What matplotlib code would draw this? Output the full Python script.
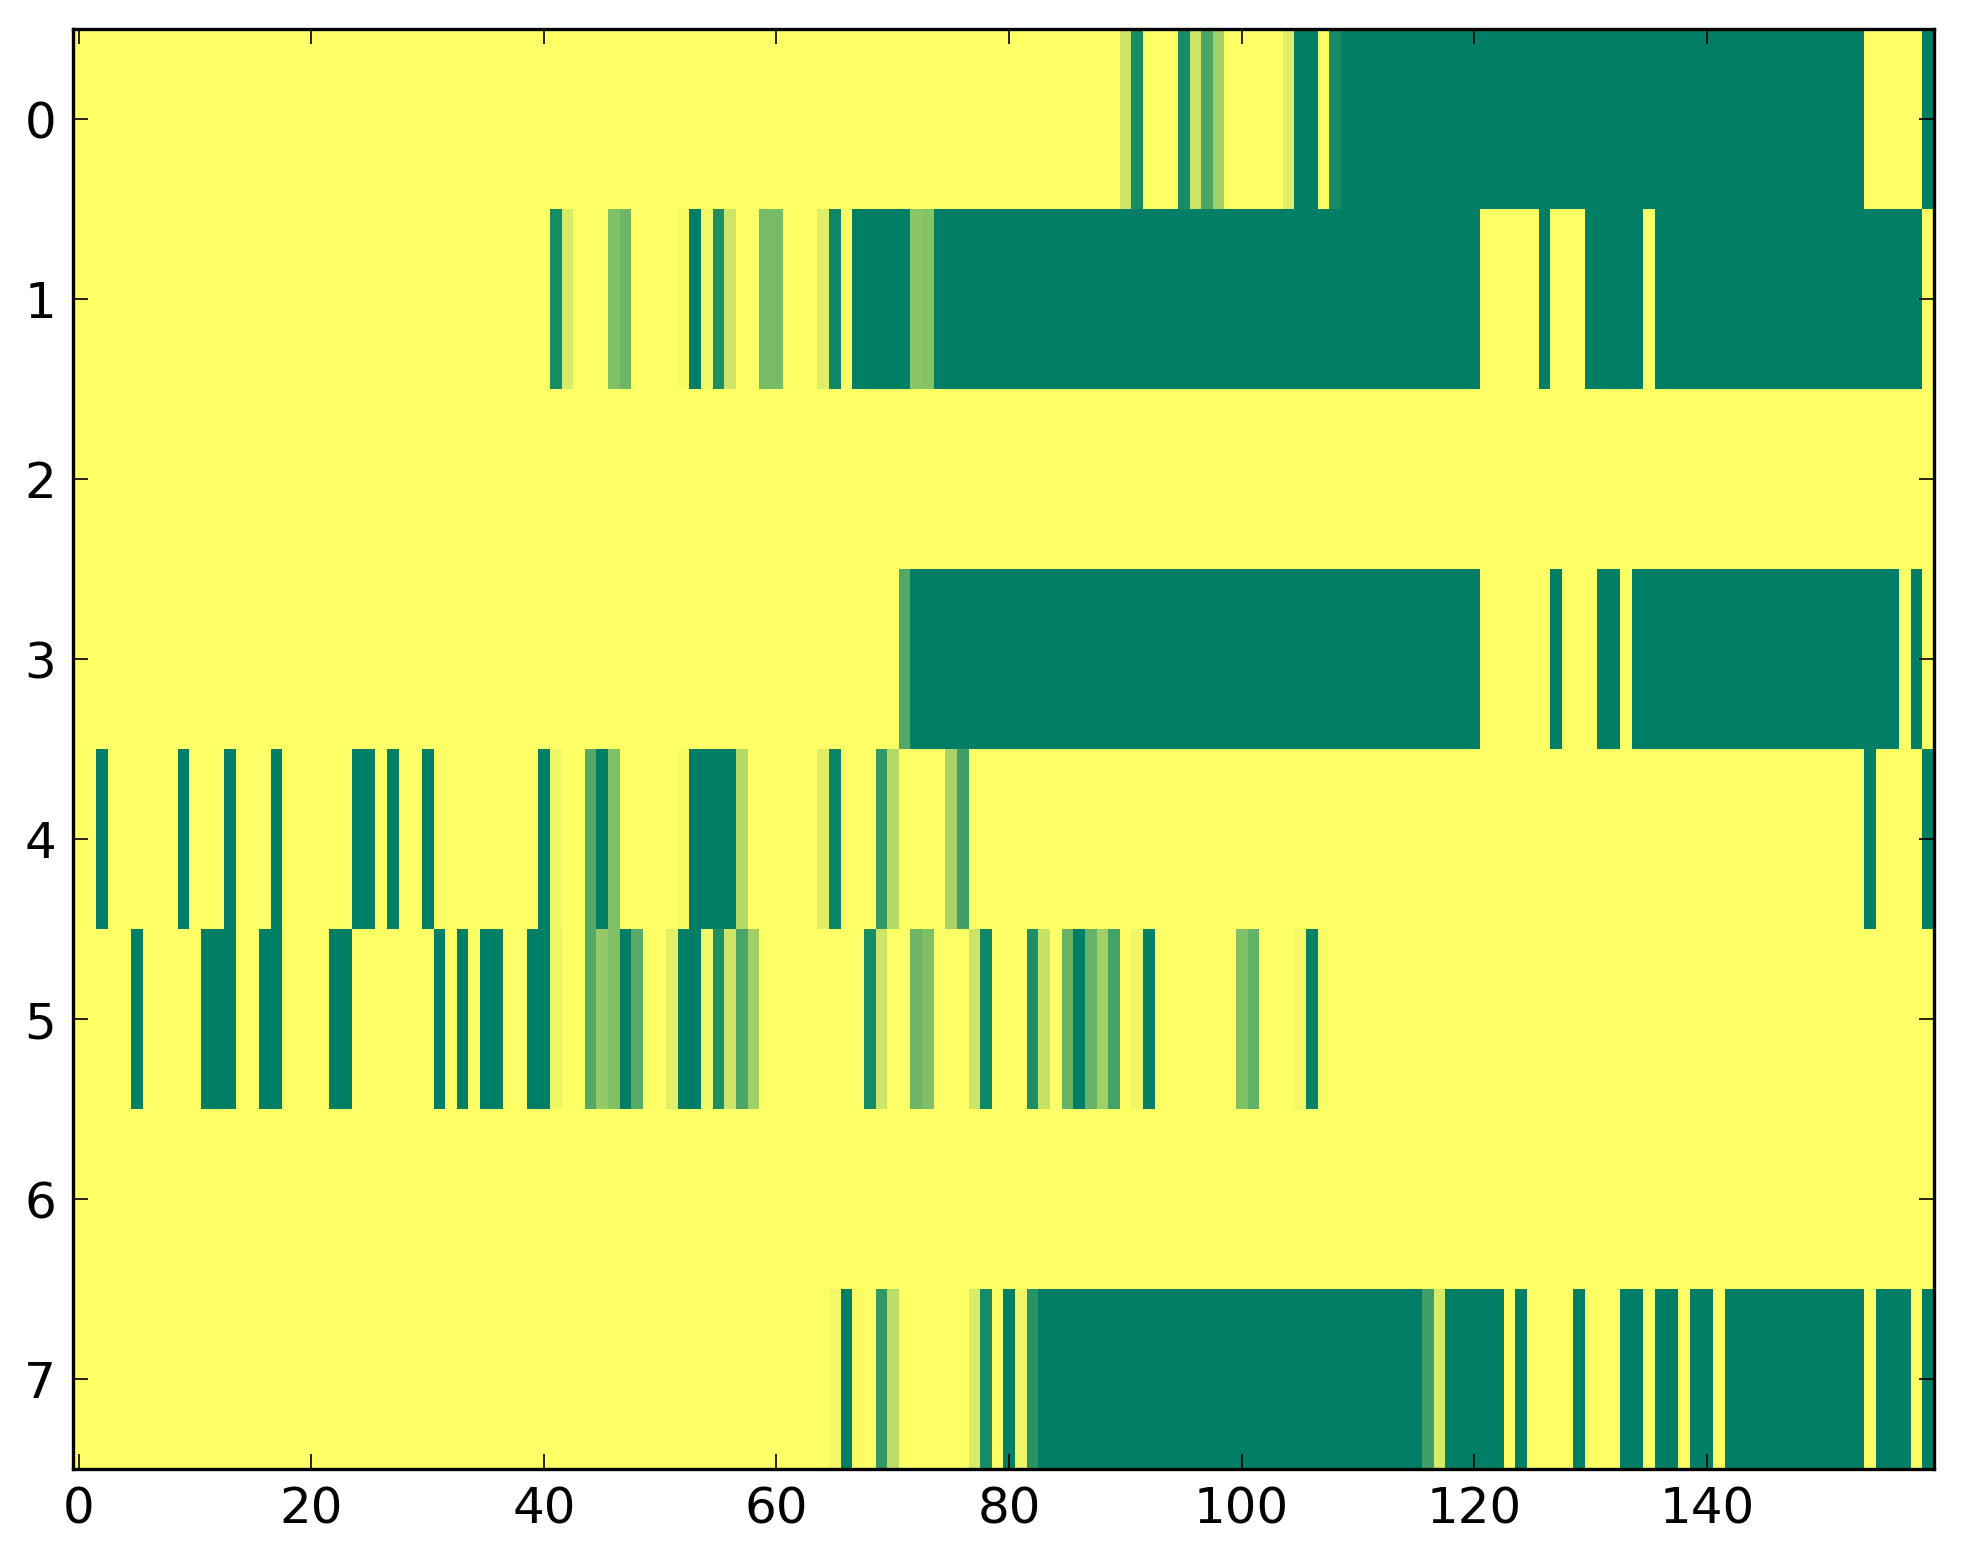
import numpy as np
import matplotlib
matplotlib.use("Agg")
import matplotlib.pyplot as plt

# non-zero runs per row: (first column, last column, value); everything else is 0
n_cols = 160
row0 = [(90, 90, 0.2), (91, 91, 0.9), (95, 95, 0.9), (96, 96, 0.2), (97, 97, 0.7),
        (98, 98, 0.37), (104, 104, 0.13), (105, 106, 1), (108, 108, 0.9),
        (109, 153, 1), (159, 159, 1)]
row1 = [(41, 41, 0.91), (42, 42, 0.16), (46, 46, 0.5), (47, 47, 0.57), (52, 52, 0.03),
        (53, 53, 1), (54, 54, 0.05), (55, 55, 0.88), (56, 56, 0.2), (59, 60, 0.53),
        (64, 64, 0.13), (65, 65, 0.94), (67, 67, 0.99), (68, 71, 1), (72, 72, 0.45),
        (73, 73, 0.48), (74, 120, 1), (126, 126, 1), (130, 134, 1), (136, 158, 1)]
row2 = []
row3 = [(71, 71, 0.68), (72, 120, 1), (127, 127, 1), (131, 132, 1), (134, 156, 1),
        (158, 158, 1)]
row4 = [(2, 2, 1), (9, 9, 1), (13, 13, 1), (17, 17, 1), (24, 25, 1), (27, 27, 1),
        (30, 30, 1), (40, 40, 1), (41, 41, 0.06), (44, 44, 0.67), (45, 45, 1),
        (46, 46, 0.5), (52, 52, 0.03), (53, 56, 1), (57, 57, 0.29), (64, 64, 0.13),
        (65, 65, 0.95), (69, 69, 0.81), (70, 70, 0.29), (75, 75, 0.34), (76, 76, 0.75),
        (154, 154, 1), (159, 159, 1)]
row5 = [(5, 5, 1), (11, 13, 1), (16, 17, 1), (22, 23, 1), (31, 31, 1), (33, 33, 1),
        (35, 36, 1), (39, 40, 1), (41, 41, 0.07), (44, 44, 0.67), (45, 45, 0.42),
        (46, 46, 0.5), (47, 47, 1), (48, 48, 0.66), (51, 51, 0.12), (52, 53, 1),
        (54, 54, 0.05), (55, 55, 0.88), (56, 56, 0.2), (57, 57, 0.7), (58, 58, 0.37),
        (68, 68, 0.9), (69, 69, 0.2), (72, 72, 0.57), (73, 73, 0.5), (77, 77, 0.2),
        (78, 78, 0.93), (82, 82, 0.88), (83, 83, 0.22), (85, 85, 0.6), (86, 86, 1),
        (87, 87, 0.6), (88, 88, 0.37), (89, 89, 0.73), (91, 91, 0.07), (92, 92, 0.98),
        (100, 100, 0.5), (101, 101, 0.61), (105, 105, 0.05), (106, 106, 0.98),
        (107, 107, 0.02)]
row6 = []
row7 = [(65, 65, 0.05), (66, 66, 1), (67, 67, 0.02), (69, 69, 0.81), (70, 70, 0.26),
        (77, 77, 0.16), (78, 78, 0.91), (80, 80, 1), (81, 81, 0.07), (82, 82, 0.84),
        (83, 115, 1), (116, 116, 0.75), (117, 117, 0.16), (118, 122, 1), (124, 124, 1),
        (129, 129, 1), (133, 134, 1), (136, 137, 1), (139, 140, 1), (142, 153, 1),
        (155, 157, 1), (159, 159, 1)]
rows = [row0, row1, row2, row3, row4, row5, row6, row7]

data = np.zeros((len(rows), n_cols))
for i, runs in enumerate(rows):
    for a, b, v in runs:
        data[i, a:b + 1] = v

dpi = 240
fig = plt.figure(figsize=(1963 / dpi, 1564 / dpi), dpi=dpi, facecolor="white")
ax = fig.add_axes([0.0371, 0.0607, 0.9479, 0.9207])
ax.imshow(data, cmap="summer_r", vmin=0, vmax=1, aspect="auto",
          interpolation="nearest")

ax.set_xticks(range(0, 160, 20))
ax.set_yticks(range(8))
ax.tick_params(direction="in", top=True, right=True, length=4.5, width=0.5,
               labelsize=15, pad=5)
for s in ax.spines.values():
    s.set_linewidth(1.0)

fig.savefig("out.png", dpi=dpi, facecolor="white")
